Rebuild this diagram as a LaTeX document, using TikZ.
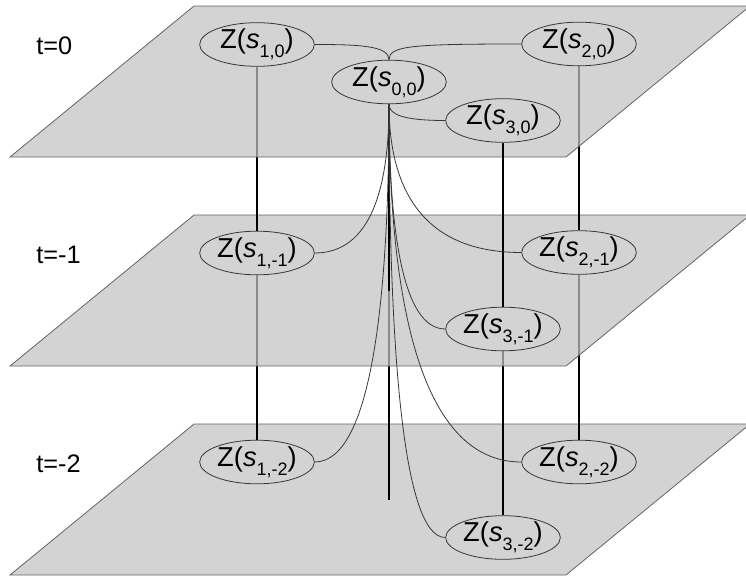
\documentclass[tikz,border=0pt]{standalone}
\usepackage{fontspec}
\setmainfont{Liberation Sans}
\usetikzlibrary{shapes.geometric}
\pgfdeclarelayer{pltwo}
\pgfdeclarelayer{lntwo}
\pgfdeclarelayer{plone}
\pgfdeclarelayer{lnone}
\pgfdeclarelayer{plzero}
\pgfsetlayers{pltwo,lntwo,plone,lnone,plzero,main}
\definecolor{planefill}{RGB}{194,194,194}
\definecolor{edgegray}{RGB}{100,100,100}
\definecolor{nodefill}{RGB}{211,211,211}
\definecolor{curvegray}{RGB}{55,55,55}
\newcommand{\zlab}[1]{Z(\textit{s}\raisebox{-0.32em}{\fontsize{13.5}{13.5}\selectfont #1})}
\tikzset{
  plane/.style={fill=planefill, fill opacity=0.72, draw=edgegray, line width=0.6pt},
  var/.style={ellipse, draw=curvegray, fill=nodefill, line width=0.6pt,
    minimum width=86pt, minimum height=28.5pt, inner sep=0pt,
    font=\fontsize{20.5}{20.5}\selectfont},
  tlab/.style={anchor=west, font=\fontsize{19}{19}\selectfont, inner sep=0pt},
  tie/.style={line width=1.1pt, draw=black},
  trunk/.style={line width=1.6pt, draw=black},
  link/.style={line width=0.6pt, draw=curvegray},
}
\begin{document}
\begin{tikzpicture}[x=0.75pt,y=-0.75pt]
\useasboundingbox (0,0) rectangle (746,575);
% planes
\begin{pgfonlayer}{plzero}
  \path[plane] (194,6) -- (750,6) -- (566,157) -- (10,157) -- cycle;
\end{pgfonlayer}
\begin{pgfonlayer}{plone}
  \path[plane] (194,215) -- (750,215) -- (566,366) -- (10,366) -- cycle;
\end{pgfonlayer}
\begin{pgfonlayer}{pltwo}
  \path[plane] (194,424) -- (750,424) -- (566,575) -- (10,575) -- cycle;
\end{pgfonlayer}
% time labels
\node[tlab] (t0) at (36,45.5) {t=0};
\node[tlab] (t1) at (36,255) {t=-1};
\node[tlab] (t2) at (36,464) {t=-2};
% nodes
\node[var] (s00) at (389,82) {\zlab{0,0}};
\node[var] (s10) at (257,44.5) {\zlab{1,0}};
\node[var] (s20) at (579,44) {\zlab{2,0}};
\node[var] (s30) at (503,120.5) {\zlab{3,0}};
\node[var] (s1m1) at (257,253) {\zlab{1,-1}};
\node[var] (s2m1) at (579,252.5) {\zlab{2,-1}};
\node[var] (s3m1) at (503,329) {\zlab{3,-1}};
\node[var] (s1m2) at (257,462) {\zlab{1,-2}};
\node[var] (s2m2) at (579,462) {\zlab{2,-2}};
\node[var] (s3m2) at (503,537.5) {\zlab{3,-2}};
\coordinate (s0m1) at (389,291);
\coordinate (s0m2) at (389,500);
% vertical ties
\begin{pgfonlayer}{lnone}
  \draw[tie] (s10.south) -- (s1m1.north);
  \draw[tie] (s20.south) -- (s2m1.north);
\end{pgfonlayer}
\begin{pgfonlayer}{lntwo}
  \draw[tie] (s1m1.south) -- (s1m2.north);
  \draw[tie] (s2m1.south) -- (s2m2.north);
  \draw[tie] (s3m1.south) -- (s3m2.north);
  \draw[trunk] (s0m1) -- (s0m2);
\end{pgfonlayer}
\draw[tie] (s30.south) -- (s3m1.north);
\draw[trunk] (s00.south) -- (s0m1);
% curved links
\draw[link] (s10.east) .. controls +(45,0) and +(0,-14) .. (s00.north);
\draw[link] (s20.west) .. controls +(-110,0) and +(0,-14) .. (s00.north);
\draw[link] (s00.south) .. controls +(0,10) and +(-43,0) .. (s30.west);
\draw[link] (s00.south) .. controls +(0,84) and +(56,0) .. (s1m1.east);
\draw[link] (s00.south) .. controls +(0,83) and +(-100,0) .. (s2m1.west);
\draw[link] (s00.south) .. controls +(0,125) and +(-43,0) .. (s3m1.west);
\draw[link] (s00.south) .. controls +(0,199) and +(56,0) .. (s1m2.east);
\draw[link] (s00.south) .. controls +(0,199) and +(-100,0) .. (s2m2.west);
\draw[link] (s00.south) .. controls +(0,240) and +(-43,0) .. (s3m2.west);
\end{tikzpicture}
\end{document}
